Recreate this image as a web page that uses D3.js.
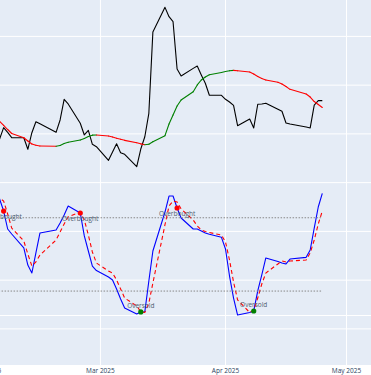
<!DOCTYPE html>
<html><head><meta charset="utf-8">
<script src="https://cdn.jsdelivr.net/npm/d3@7/dist/d3.min.js"></script>
<style>html,body{margin:0;padding:0;background:#fff;}svg{display:block;}</style>
</head><body><svg id="c" width="371" height="375"></svg>
<script>
const dates = ["2025-02-03","2025-02-04","2025-02-05","2025-02-06","2025-02-07","2025-02-10","2025-02-11","2025-02-12","2025-02-13","2025-02-14","2025-02-18","2025-02-19","2025-02-20","2025-02-21","2025-02-24","2025-02-25","2025-02-26","2025-02-27","2025-02-28",
"2025-03-03","2025-03-04","2025-03-05","2025-03-06","2025-03-07","2025-03-10","2025-03-11","2025-03-12","2025-03-13","2025-03-14","2025-03-17","2025-03-18","2025-03-19","2025-03-20","2025-03-21","2025-03-24","2025-03-25","2025-03-26","2025-03-27","2025-03-28","2025-03-31",
"2025-04-01","2025-04-02","2025-04-03","2025-04-04","2025-04-07","2025-04-08","2025-04-09","2025-04-10","2025-04-11","2025-04-14","2025-04-15","2025-04-16","2025-04-17","2025-04-21","2025-04-22","2025-04-23","2025-04-24","2025-04-25"];
const close = [99.37,99.48,100.64,100.16,99.61,99.61,98.42,100.12,101.25,101.04,100.16,101.43,103.55,103.07,101.09,99.89,100.37,98.93,98.69,
97.29,98.14,98.99,98.07,97.91,96.64,98.45,99.71,102.11,110.45,112.98,112.02,111.51,106.66,105.94,106.72,106.96,106.05,105.19,103.96,103.96,
103.55,103.27,102.93,100.84,101.53,100.61,103.04,103.07,103.14,102.52,102.32,101.12,101.02,100.71,100.61,102.96,103.41,103.41];
const trend = [101.73,101.28,100.87,100.45,100.04,99.61,99.27,98.96,98.83,98.76,98.73,98.81,99.02,99.14,99.37,99.53,99.73,99.87,99.89,
99.78,99.68,99.55,99.45,99.34,99.10,98.98,98.89,98.94,99.20,99.82,101.02,101.94,102.86,103.48,104.33,105.02,105.53,105.84,106.06,106.30,
106.40,106.48,106.52,106.47,106.35,106.14,105.89,105.68,105.53,105.29,105.12,104.86,104.57,104.09,103.78,103.32,103.02,102.71];
const stochK = [97.8,95.4,85.5,70.8,66.7,55.3,41.3,34.8,51.2,67.5,70.0,75.7,82.3,89.6,83.9,65.1,52.8,40.5,36.8,
31.5,29.1,21.7,13.5,6.1,1.2,2.9,3.1,28.2,52.8,84.7,97.8,97.8,88.0,79.8,70.8,70.8,69.2,67.5,66.5,64.0,
54.4,32.3,14.3,0.4,2.5,3.7,20.1,33.2,47.1,44.2,43.0,42.2,46.2,47.6,53.6,71.6,88.8,100.0];
const stochD = [97.0,96.0,93.7,83.1,71.6,61.0,50.3,40.5,43.8,49.5,61.8,68.3,74.9,80.9,84.5,78.2,65.9,52.0,43.0,
36.4,34.8,29.1,21.7,14.3,7.8,3.0,2.5,10.2,26.6,74.3,89.6,93.7,92.9,87.2,78.2,73.3,70.0,68.8,67.9,65.9,
60.2,45.4,27.4,12.7,2.5,4.5,14.3,25.8,34.8,42.2,44.6,43.8,44.6,45.4,51.2,61.8,74.9,85.5];
const sellSignals = ["2025-02-05","2025-02-24","2025-03-20"];
const buySignals = ["2025-03-11","2025-04-08"];
const overbought = 80, oversold = 20;
const priceTicks = [80,85,90,95,100,105,110,115];
const monthTicks = ["2025-02-01","2025-03-01","2025-04-01","2025-05-01"];
const monthLabels = ["Feb 2025","Mar 2025","Apr 2025","May 2025"];

const W = 371, H = 375, plotBottom = 365;
const svg = d3.select("#c");
const parse = d3.utcParse("%Y-%m-%d");
const dts = dates.map(parse);
const x = d3.scaleUtc().domain([parse("2025-02-01"), parse("2025-05-01")]).range([-12.5, 346.5]);
const yP = d3.scaleLinear().domain([80, 120]).range([328.9, -61.1]);
const yS = d3.scaleLinear().domain([0, 100]).range([315.5, 193.33]);

svg.append("rect").attr("x",0).attr("y",0).attr("width",W).attr("height",plotBottom).attr("fill","#E5ECF6");

const grid = svg.append("g");
monthTicks.forEach(t => {
  grid.append("line").attr("x1",x(parse(t))).attr("x2",x(parse(t))).attr("y1",0).attr("y2",plotBottom)
    .attr("stroke","#fff").attr("stroke-width",1);
});
priceTicks.forEach(v => {
  const yy = yP(v);
  if (yy > 0 && yy < plotBottom)
    grid.append("line").attr("x1",0).attr("x2",W).attr("y1",yy).attr("y2",yy).attr("stroke","#fff").attr("stroke-width",1);
});
grid.append("line").attr("x1",0).attr("x2",W).attr("y1",yS(0)).attr("y2",yS(0)).attr("stroke","#fff").attr("stroke-width",1.2);

// tick labels
monthTicks.forEach((t,i) => {
  svg.append("text").attr("x",x(parse(t))).attr("y",372.5).attr("text-anchor","middle")
    .attr("font-family","'Open Sans', Arial, sans-serif").attr("font-size",6.5).attr("fill","#2a3f5f").text(monthLabels[i]);
});

// price line
const lineP = d3.line().x((d,i)=>x(dts[i])).y(d=>yP(d));
svg.append("path").datum(close).attr("d",lineP).attr("fill","none").attr("stroke","#000").attr("stroke-width",1.1).attr("stroke-linejoin","round");

// trend line coloured by slope
for (let i = 1; i < trend.length; i++) {
  const up = trend[i] > trend[i-1];
  svg.append("line").attr("x1",x(dts[i-1])).attr("y1",yP(trend[i-1])).attr("x2",x(dts[i])).attr("y2",yP(trend[i]))
    .attr("stroke", up ? "green" : "red").attr("stroke-width",1.1).attr("stroke-linecap","round");
}

// oscillator
const lineS = d3.line().x((d,i)=>x(dts[i])).y(d=>yS(d));
svg.append("path").datum(stochK).attr("d",lineS).attr("fill","none").attr("stroke","blue").attr("stroke-width",1.1).attr("stroke-linejoin","round");
svg.append("path").datum(stochD).attr("d",lineS).attr("fill","none").attr("stroke","red").attr("stroke-width",1.1).attr("stroke-dasharray","4,3");

// level lines
[overbought, oversold].forEach(v => {
  svg.append("line").attr("x1",x(dts[0])).attr("x2",x(dts[dts.length-1])).attr("y1",yS(v)).attr("y2",yS(v))
    .attr("stroke","#888").attr("stroke-width",1).attr("stroke-dasharray","1.5,1.5");
});

// signals
const idx = d => dates.indexOf(d);
sellSignals.forEach(d => {
  const i = idx(d);
  svg.append("circle").attr("cx",x(dts[i])).attr("cy",yS(stochK[i])).attr("r",2.6).attr("fill","red");
  svg.append("text").attr("x",x(dts[i])).attr("y",yS(stochK[i])+8.3).attr("text-anchor","middle")
    .attr("font-family","'Open Sans', Arial, sans-serif").attr("font-size",6.5).attr("fill","#4d5d70").text("Overbought");
});
buySignals.forEach(d => {
  const i = idx(d);
  svg.append("circle").attr("cx",x(dts[i])).attr("cy",yS(stochK[i])).attr("r",2.6).attr("fill","green");
  svg.append("text").attr("x",x(dts[i])).attr("y",yS(stochK[i])-4).attr("text-anchor","middle")
    .attr("font-family","'Open Sans', Arial, sans-serif").attr("font-size",6.5).attr("fill","#4d5d70").text("Oversold");
});
</script></body></html>
